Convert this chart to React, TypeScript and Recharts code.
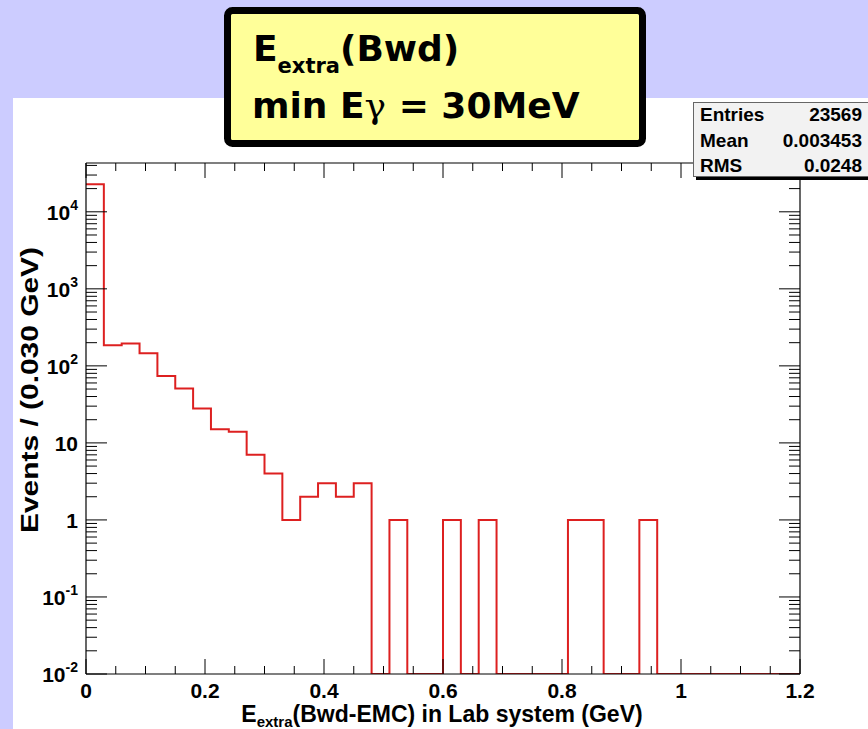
import React from "react";
import { LineChart, Line, XAxis, YAxis } from "recharts";

// ---- data (histogram: 40 bins of 0.030 GeV from 0 to 1.2 GeV) ----
const binLowEdges = [
  0, 0.03, 0.06, 0.09, 0.12, 0.15, 0.18, 0.21, 0.24, 0.27,
  0.3, 0.33, 0.36, 0.39, 0.42, 0.45, 0.48, 0.51, 0.54, 0.57,
  0.6, 0.63, 0.66, 0.69, 0.72, 0.75, 0.78, 0.81, 0.84, 0.87,
  0.9, 0.93, 0.96, 0.99, 1.02, 1.05, 1.08, 1.11, 1.14, 1.17,
];
const binCounts = [
  22833, 185, 195, 146, 74, 51, 28, 15, 14, 7,
  4, 1, 2, 3, 2, 3, 0, 1, 0, 0,
  1, 0, 1, 0, 0, 0, 0, 1, 1, 0,
  0, 1, 0, 0, 0, 0, 0, 0, 0, 0,
];
const xUpperEdge = 1.2;

const xMajorTicks = [0, 0.2, 0.4, 0.6, 0.8, 1, 1.2];
const xTickLabels = ["0", "0.2", "0.4", "0.6", "0.8", "1", "1.2"];
const yMajorTicks = [0.01, 0.1, 1, 10, 100, 1000, 10000];
const yTickBases = ["10", "10", "1", "10", "10", "10", "10"];
const yTickExps = ["-2", "-1", "", "", "2", "3", "4"];

const statNames = ["Entries", "Mean", "RMS"];
const statValues = ["23569", "0.003453", "0.0248"];

const Y_MIN = 0.01;
const Y_MAX = 43000;

// ---- layout ----
const W = 868;
const H = 729;
const PL = 86;
const PR = 800;
const PT = 163;
const PB = 674;
const FONT = "'Liberation Sans', Arial, Helvetica, sans-serif";
const RED = "#dd2020";

const AX_L = 60;
const AX_R = 10;
const AX_T = 10;
const AX_B = 30;

const histData = binLowEdges
  .map((x, i) => ({ x, y: Math.max(binCounts[i], Y_MIN) }))
  .concat([{ x: xUpperEdge, y: Math.max(binCounts[binCounts.length - 1], Y_MIN) }]);

// minor ticks
const yAllTicks: number[] = [];
for (let d = 0; d < yMajorTicks.length; d++) {
  const base = yMajorTicks[d];
  yAllTicks.push(base);
  for (let k = 2; k <= 9; k++) {
    const v = base * k;
    if (v < Y_MAX) yAllTicks.push(v);
  }
}
const xAllTicks: number[] = [];
for (let i = 0; i <= 24; i++) xAllTicks.push(Math.round(i * 5) / 100);

const majorIndexY = (v: number) =>
  yMajorTicks.findIndex((t) => Math.abs(v - t) / t < 1e-6);
const majorIndexX = (v: number) =>
  xMajorTicks.findIndex((t) => Math.abs(v - t) < 1e-6);

const YLeftTick = (props: any) => {
  const { y, payload } = props;
  const idx = majorIndexY(payload.value);
  const len = idx >= 0 ? 21 : 11;
  return (
    <g>
      <line x1={PL} x2={PL + len} y1={y} y2={y} stroke="#000" strokeWidth={1} />
      {idx >= 0 && (
        <text
          x={78}
          y={y + 8}
          textAnchor="end"
          fontFamily={FONT}
          fontWeight="bold"
          fontSize={21}
          fill="#000"
        >
          {yTickBases[idx]}
          {yTickExps[idx] !== "" && (
            <tspan dy={-10} fontSize={14}>
              {yTickExps[idx]}
            </tspan>
          )}
        </text>
      )}
    </g>
  );
};

const YRightTick = (props: any) => {
  const { y, payload } = props;
  const idx = majorIndexY(payload.value);
  const len = idx >= 0 ? 21 : 11;
  return <line x1={PR} x2={PR - len} y1={y} y2={y} stroke="#000" strokeWidth={1} />;
};

const XBottomTick = (props: any) => {
  const { x, payload } = props;
  const idx = majorIndexX(payload.value);
  const len = idx >= 0 ? 15 : 8;
  return (
    <g>
      <line x1={x} x2={x} y1={PB} y2={PB - len} stroke="#000" strokeWidth={1} />
      {idx >= 0 && (
        <text
          x={x}
          y={PB + 24}
          textAnchor="middle"
          fontFamily={FONT}
          fontWeight="bold"
          fontSize={21}
          fill="#000"
        >
          {xTickLabels[idx]}
        </text>
      )}
    </g>
  );
};

const XTopTick = (props: any) => {
  const { x, payload } = props;
  const idx = majorIndexX(payload.value);
  const len = idx >= 0 ? 15 : 8;
  return <line x1={x} x2={x} y1={PT} y2={PT + len} stroke="#000" strokeWidth={1} />;
};

export default function App() {
  return (
    <div
      style={{
        position: "absolute",
        left: 0,
        top: 0,
        width: W,
        height: H,
        background: "#ccccff",
        overflow: "hidden",
      }}
    >
      <div
        style={{
          position: "absolute",
          left: 13,
          top: 98,
          width: W - 13,
          height: H - 98,
          background: "#ffffff",
        }}
      />
      <div style={{ position: "absolute", left: 0, top: 0 }}>
        <LineChart
          width={W}
          height={H}
          data={histData}
          margin={{ top: PT - AX_T, right: W - PR - AX_R, bottom: H - PB - AX_B, left: PL - AX_L }}
        >
          <XAxis
            xAxisId="bottom"
            dataKey="x"
            type="number"
            domain={[0, 1.2]}
            allowDataOverflow
            ticks={xAllTicks}
            interval={0}
            height={AX_B}
            tickSize={0}
            tickMargin={0}
            tickLine={false}
            tick={<XBottomTick />}
            axisLine={{ stroke: "#000", strokeWidth: 1.2 }}
          />
          <XAxis
            xAxisId="top"
            orientation="top"
            dataKey="x"
            type="number"
            domain={[0, 1.2]}
            allowDataOverflow
            ticks={xAllTicks}
            interval={0}
            height={AX_T}
            tickSize={0}
            tickMargin={0}
            tickLine={false}
            tick={<XTopTick />}
            axisLine={{ stroke: "#000", strokeWidth: 1.2 }}
          />
          <YAxis
            yAxisId="left"
            type="number"
            scale="log"
            domain={[Y_MIN, Y_MAX]}
            allowDataOverflow
            ticks={yAllTicks}
            interval={0}
            width={AX_L}
            tickSize={0}
            tickMargin={0}
            tickLine={false}
            tick={<YLeftTick />}
            axisLine={{ stroke: "#000", strokeWidth: 1.2 }}
          />
          <YAxis
            yAxisId="right"
            orientation="right"
            type="number"
            scale="log"
            domain={[Y_MIN, Y_MAX]}
            allowDataOverflow
            ticks={yAllTicks}
            interval={0}
            width={AX_R}
            tickSize={0}
            tickMargin={0}
            tickLine={false}
            tick={<YRightTick />}
            axisLine={{ stroke: "#000", strokeWidth: 1.2 }}
          />
          <Line
            xAxisId="bottom"
            yAxisId="left"
            dataKey="y"
            type="stepAfter"
            stroke={RED}
            strokeWidth={2}
            dot={false}
            activeDot={false}
            isAnimationActive={false}
          />
          <Line
            xAxisId="top"
            yAxisId="right"
            dataKey="y"
            type="stepAfter"
            stroke="none"
            dot={false}
            activeDot={false}
            isAnimationActive={false}
          />
        </LineChart>
      </div>
      <svg
        width={W}
        height={H}
        style={{ position: "absolute", left: 0, top: 0, pointerEvents: "none" }}
      >
        {/* axis titles */}
        <text
          transform="translate(38, 390) rotate(-90)"
          textAnchor="middle"
          fontFamily={FONT}
          fontWeight="bold"
          fontSize={24}
          textLength={286}
          lengthAdjust="spacingAndGlyphs"
          fill="#000"
        >
          Events / (0.030 GeV)
        </text>
        <text
          x={442}
          y={722}
          textAnchor="middle"
          fontFamily={FONT}
          fontWeight="bold"
          fontSize={23}
          fill="#000"
        >
          E
          <tspan dy={5} fontSize={15}>
            extra
          </tspan>
          <tspan dy={-5}>(Bwd-EMC) in Lab system (GeV)</tspan>
        </text>

        {/* stats box */}
        <rect x={696} y={105} width={200} height={75} fill="#000" />
        <rect x={693.5} y={102.5} width={200} height={74} fill="#f2f2f2" stroke="#666" strokeWidth={1} />
        {statNames.map((n, i) => (
          <g key={n}>
            <text
              x={700}
              y={121 + i * 25.5}
              fontFamily={FONT}
              fontWeight="bold"
              fontSize={19}
              fill="#000"
            >
              {n}
            </text>
            <text
              x={862}
              y={121 + i * 25.5}
              textAnchor="end"
              fontFamily={FONT}
              fontWeight="bold"
              fontSize={19}
              fill="#000"
            >
              {statValues[i]}
            </text>
          </g>
        ))}

        {/* title box */}
        <rect
          x={227.5}
          y={10.5}
          width={415}
          height={133}
          rx={5}
          fill="#ffff99"
          stroke="#000"
          strokeWidth={7}
        />
        <text
          x={253}
          y={61}
          fontFamily="'DejaVu Sans', sans-serif"
          fontWeight="bold"
          fontSize={36}
          fill="#000"
        >
          E
          <tspan dy={12} fontSize={21}>
            extra
          </tspan>
          <tspan dy={-12}>(Bwd)</tspan>
        </text>
        <text
          x={252}
          y={118}
          fontFamily="'DejaVu Sans', sans-serif"
          fontWeight="bold"
          fontSize={36}
          fill="#000"
        >
          min E
          <tspan fontFamily="'DejaVu Serif', serif" fontWeight="normal">
            γ
          </tspan>
          {" = 30MeV"}
        </text>
      </svg>
    </div>
  );
}
